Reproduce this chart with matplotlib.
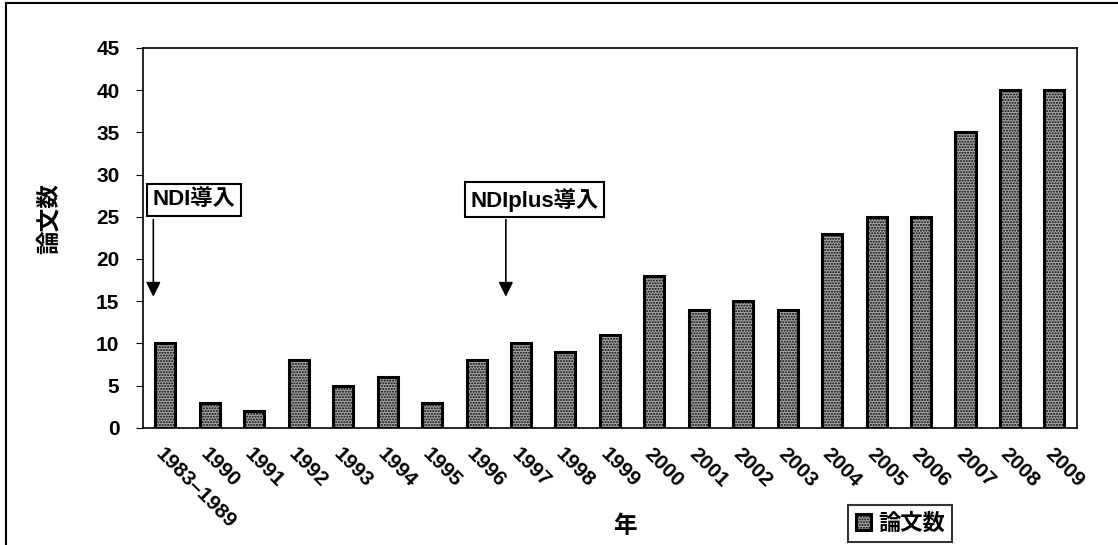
import matplotlib.pyplot as plt
from matplotlib.lines import Line2D

plt.rcParams['font.family'] = ['Liberation Sans', 'Noto Sans CJK JP', 'DejaVu Sans']
plt.rcParams['font.weight'] = 'bold'
plt.rcParams['axes.labelweight'] = 'bold'
plt.rcParams['hatch.color'] = '#3c3c3c'

years = ['1983–1989', '1990', '1991', '1992', '1993', '1994', '1995', '1996',
         '1997', '1998', '1999', '2000', '2001', '2002', '2003', '2004', '2005',
         '2006', '2007', '2008', '2009']
papers = [10, 3, 2, 8, 5, 6, 3, 8, 10, 9, 11, 18, 14, 15, 14, 23, 25, 25, 35, 40, 40]

fig = plt.figure(figsize=(11.18, 5.45), dpi=100)
ax = fig.add_axes([0.128, 0.215, 0.835, 0.697])

x = range(len(years))
ax.bar(x, papers, width=0.45, color='#a8a8a8', edgecolor='black', linewidth=2.2,
       hatch='......', label='論文数')

ax.set_xlim(-0.5, len(years) - 0.5)
ax.set_ylim(0, 45)
ax.set_yticks(range(0, 46, 5))
ax.tick_params(axis='y', labelsize=15, length=5, direction='out', pad=12)
ax.set_xticks(list(x))
ax.set_xticklabels(years, rotation=-45, ha='left', va='top',
                   rotation_mode='anchor', fontsize=15)
ax.tick_params(axis='x', length=0, pad=12)
for s in ax.spines.values():
    s.set_linewidth(1.2)

ax.set_ylabel('論文数', fontsize=17, fontweight='bold')
ax.yaxis.set_label_coords(-0.088, 0.55)
ax.set_xlabel('年', fontsize=17, fontweight='bold')
ax.xaxis.set_label_coords(0.516, -0.229)

box = dict(boxstyle='square,pad=0.25', fc='white', ec='black', lw=1.5)
arrow = dict(arrowstyle='-|>', color='black', lw=1.2, mutation_scale=22)
ax.annotate('', xy=(-0.27, 15.2), xytext=(-0.27, 25.0), arrowprops=arrow)
ax.text(-0.28, 27.0, 'NDI導入', fontsize=16, ha='left', va='center', bbox=box)
ax.annotate('', xy=(7.66, 15.2), xytext=(7.66, 25.0), arrowprops=arrow)
ax.text(6.87, 27.0, 'NDIplus導入', fontsize=16, ha='left', va='center', bbox=box)

leg = ax.legend(loc='center', bbox_to_anchor=(0.811, -0.253), fontsize=16,
                frameon=True, fancybox=False, edgecolor='black',
                handlelength=0.7, handleheight=0.7, handletextpad=0.3,
                borderpad=0.35)
leg.get_frame().set_linewidth(1.5)

fig.add_artist(Line2D([0.005, 0.005], [0, 0.995], color='black', lw=1.5))
fig.add_artist(Line2D([0.005, 1.0], [0.995, 0.995], color='black', lw=1.5))

fig.savefig('out.png', dpi=100)
